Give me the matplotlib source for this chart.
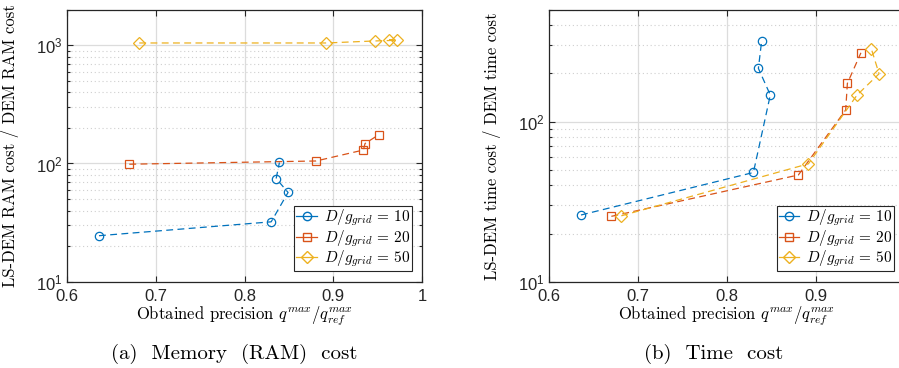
import matplotlib
matplotlib.use("Agg")
import matplotlib.pyplot as plt
from matplotlib.lines import Line2D

plt.rcParams['mathtext.fontset'] = 'cm'
plt.rcParams['font.family'] = ['Liberation Sans', 'DejaVu Sans']
plt.rcParams['axes.unicode_minus'] = False

# precision (x) and cost ratios (y) for each grid refinement
prec_10 = [0.6363, 0.8300, 0.8490, 0.8356, 0.8393]
ram_10 = [24.5, 32.1, 56.9, 74.6, 102.0]
time_10 = [26.1, 48.1, 146.6, 215.0, 320.0]

prec_20 = [0.6704, 0.8805, 0.9337, 0.9356, 0.9508]
ram_20 = [98.6, 105.0, 130.0, 147.6, 174.6]
time_20 = [25.6, 46.4, 118.3, 173.4, 269.0]

prec_50 = [0.6816, 0.8918, 0.9465, 0.9712, 0.9626]
ram_50 = [1046, 1046, 1088, 1102, 1117]
time_50 = [25.8, 54.5, 146.6, 199.0, 284.0]

labels = [r'$D/g_{grid}\,=\,10$', r'$D/g_{grid}\,=\,20$', r'$D/g_{grid}\,=\,50$']
colors = ['#0072BD', '#D95319', '#EDB120']
markers = ['o', 's', 'D']
msizes = [6.0, 5.2, 6.2]

W, H = 899, 368
fig = plt.figure(figsize=(W / 100, H / 100), dpi=100)

ax1 = fig.add_axes([66.7 / W, 1 - 281.7 / H, (422.3 - 66.7) / W, (281.7 - 9.7) / H])
ax2 = fig.add_axes([548.7 / W, 1 - 281.7 / H, (904.7 - 548.7) / W, (281.7 - 9.7) / H])


def draw(ax, ys, ylim, ylabel, xticklabels):
    xs = [prec_10, prec_20, prec_50]
    for x, y, c, m, ms in zip(xs, ys, colors, markers, msizes):
        ax.plot(x, y, ls=(0, (5.5, 3.5)), lw=0.9, color=c, marker=m, ms=ms,
                mfc='none', mec=c, mew=0.9, zorder=3)
    ax.set_yscale('log')
    ax.set_xlim(0.6, 1.0)
    ax.set_ylim(*ylim)
    ax.set_xticks([0.6, 0.7, 0.8, 0.9, 1.0])
    ax.set_xticklabels(xticklabels)
    ax.grid(True, which='major', color='#dcdcdc', lw=0.9, ls='-')
    ax.grid(True, which='minor', axis='y', color='#cfcfcf', lw=0.8, ls=(0, (1, 2.5)))
    ax.set_axisbelow(True)
    ax.tick_params(which='both', direction='in', top=True, right=True,
                   labelsize=12, colors='#262626', width=0.8)
    ax.tick_params(which='major', length=4)
    ax.tick_params(which='minor', length=2.5)
    ax.tick_params(axis='x', which='major', pad=5)
    ax.tick_params(axis='y', which='major', pad=3)
    ax.tick_params(axis='x', which='minor', bottom=False, top=False)
    for s in ax.spines.values():
        s.set_color('#262626')
        s.set_linewidth(0.9)
    ax.set_ylabel(ylabel, fontsize=12, family='cmr10')
    ax.set_xlabel(r'Obtained precision $q^{max}/q^{max}_{ref}$', fontsize=12,
                  family='cmr10', labelpad=1)
    handles = [Line2D([0], [0], color=c, lw=0.9, marker=m, ms=ms, mfc='none', mec=c)
               for c, m, ms in zip(colors, markers, msizes)]
    leg = ax.legend(handles, labels, loc='lower right', fontsize=11,
                    fancybox=False, framealpha=1, edgecolor='#262626',
                    borderpad=0.12, labelspacing=0.0, handlelength=1.35,
                    handletextpad=0.45, borderaxespad=0.0,
                    bbox_to_anchor=(1 - 10.5 / 355.6, 10.5 / 272))
    leg.get_frame().set_linewidth(0.8)


draw(ax1, [ram_10, ram_20, ram_50], (10, 2000), 'LS-DEM RAM cost / DEM RAM cost',
     ['0.6', '0.7', '0.8', '0.9', '1'])
draw(ax2, [time_10, time_20, time_50], (10, 500), 'LS-DEM time cost / DEM time cost',
     ['0.6', '0.7', '0.8', '0.9', ''])
ax1.yaxis.set_label_coords(-0.135, 0.5)
ax2.yaxis.set_label_coords(-0.135, 0.5)

fig.text(234 / W, 1 - 354 / H, '(a)  Memory  (RAM)  cost', ha='center', va='center',
         fontsize=15, family='cmr10')
fig.text(714 / W, 1 - 354 / H, '(b)  Time  cost', ha='center', va='center',
         fontsize=15, family='cmr10')

fig.savefig('out.png', dpi=100)
